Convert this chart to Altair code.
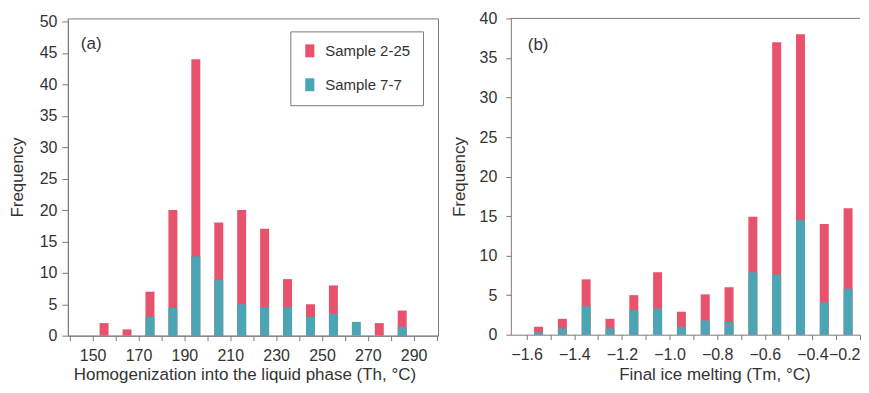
import altair as alt
import pandas as pd

# ---- data ----
th_bins = [155, 165, 175, 185, 195, 205, 215, 225, 235, 245, 255, 265, 275, 285]
th_s225 = [2, 1, 7, 20, 44, 18, 20, 17, 9, 5, 8, 0, 2, 4]
th_s77 = [0, 0, 3, 4.4, 12.6, 8.9, 5, 4.5, 4.5, 3, 3.5, 2.2, 0, 1.4]

tm_bins = [-1.55, -1.45, -1.35, -1.25, -1.15, -1.05, -0.95, -0.85, -0.75, -0.65, -0.55, -0.45, -0.35, -0.25]
tm_s225 = [1, 2, 7, 2, 5, 7.9, 2.9, 5.1, 6, 14.9, 37, 38, 14, 16]
tm_s77 = [0.3, 0.8, 3.6, 0.8, 3.1, 3.3, 1, 1.8, 1.6, 7.9, 7.6, 14.5, 4.1, 5.8]

samples = ["Sample 2-25", "Sample 7-7"]
th_ticks = list(range(140, 301, 10))
tm_ticks = [round(-1.6 + 0.1 * i, 1) for i in range(15)]

RED = "#E8526C"
TEAL = "#4AA6B4"
GREY = "#7a7a7a"
TXT = "#333333"
FONT = "Liberation Sans"

th_red = pd.DataFrame({"bin": th_bins, "value": th_s225, "sample": samples[0]})
th_teal = pd.DataFrame({"bin": th_bins, "value": th_s77, "sample": samples[1]})
tm_red = pd.DataFrame({"bin": tm_bins, "value": tm_s225, "sample": samples[0]})
tm_teal = pd.DataFrame({"bin": tm_bins, "value": tm_s77, "sample": samples[1]})

LW, LH = 371, 318
RW, RH = 350, 317

color_scale = alt.Scale(domain=samples, range=[RED, TEAL])
legend = alt.Legend(
    orient="none", legendX=223, legendY=13, title=None,
    strokeColor=GREY, fillColor="white", padding=12,
    symbolType="M-0.7,-1H0.7V1H-0.7Z", symbolSize=169,
    symbolStrokeWidth=0, symbolOpacity=1,
    labelFontSize=15, labelFont=FONT, labelColor=TXT,
    labelExpr="datum.label + '\u2002'",
    rowPadding=18, labelOffset=8,
)

lx = alt.X(
    "bin:Q",
    scale=alt.Scale(domain=[139.2, 300.6], nice=False, zero=False, padding=0),
    axis=alt.Axis(
        values=th_ticks,
        labelExpr="(datum.value - 150) % 20 == 0 ? datum.label : ''",
        title="Homogenization into the liquid phase (Th, °C)",
        tickSize=5, labelPadding=7, minExtent=28, maxExtent=28,
        titlePadding=3, titleX=177,
    ),
)
ly = alt.Y(
    "value:Q",
    scale=alt.Scale(domain=[0, 50.5], nice=False, padding=0),
    axis=alt.Axis(
        values=list(range(0, 51, 5)), title="Frequency",
        tickSize=6, labelPadding=5, minExtent=29, maxExtent=29, titlePadding=12,
    ),
)

left_red = alt.Chart(th_red).mark_bar(size=9).encode(
    x=lx, y=ly, color=alt.Color("sample:N", scale=color_scale, legend=legend)
)
left_teal = alt.Chart(th_teal).mark_bar(size=9).encode(
    x=lx, y=ly, color=alt.Color("sample:N", scale=color_scale, legend=legend)
)
left_label = alt.Chart(pd.DataFrame({"t": ["(a)"]})).mark_text(
    align="left", baseline="middle", fontSize=17, font=FONT, color=TXT
).encode(x=alt.value(13), y=alt.value(25.5), text="t:N")

left = alt.layer(left_red, left_teal, left_label).properties(width=LW, height=LH)

rx = alt.X(
    "bin:Q",
    scale=alt.Scale(domain=[-1.6665, -0.2], nice=False, zero=False, padding=0),
    axis=alt.Axis(
        values=tm_ticks, format=".1f",
        labelExpr="abs(round(datum.value * 10)) % 2 == 0 ? datum.label : ''",
        title="Final ice melting (Tm, °C)",
        tickSize=5, labelPadding=7, minExtent=28, maxExtent=28,
        labelFlush=True,
        titlePadding=4, titleX=204,
    ),
)
ry = alt.Y(
    "value:Q",
    scale=alt.Scale(domain=[0, 40], nice=False, padding=0),
    axis=alt.Axis(
        values=list(range(0, 41, 5)), title="Frequency",
        tickSize=5, labelPadding=9, minExtent=32, maxExtent=32, titlePadding=10.5,
    ),
)
right_red = alt.Chart(tm_red).mark_bar(size=9, color=RED).encode(x=rx, y=ry)
right_teal = alt.Chart(tm_teal).mark_bar(size=9, color=TEAL).encode(x=rx, y=ry)
right_label = alt.Chart(pd.DataFrame({"t": ["(b)"]})).mark_text(
    align="left", baseline="middle", fontSize=17, font=FONT, color=TXT
).encode(x=alt.value(17), y=alt.value(27), text="t:N")
right_top = alt.Chart(pd.DataFrame({"a": [0]})).mark_rule(color=GREY, strokeWidth=1).encode(
    x=alt.value(0), x2=alt.value(RW), y=alt.value(0)
)
right = alt.layer(right_red, right_teal, right_label, right_top).properties(
    width=RW, height=RH, view=alt.ViewBackground(strokeOpacity=0)
)

chart = (
    alt.hconcat(left, right, spacing=73, bounds="flush")
    .resolve_scale(color="independent")
    .resolve_legend(color="independent")
    .properties(padding={"left": 0, "top": 2, "right": 0, "bottom": 0}, background="white")
    .configure_view(stroke=GREY, strokeWidth=1)
    .configure_axis(
        grid=False, domainColor=GREY, tickColor=GREY,
        labelFont=FONT, titleFont=FONT, labelFontSize=16, titleFontSize=17,
        labelColor=TXT, titleColor=TXT, titleFontWeight="normal",
        labelOverlap=False,
    )
)

chart.save("out.html", embed_options={"renderer": "svg", "actions": False})
